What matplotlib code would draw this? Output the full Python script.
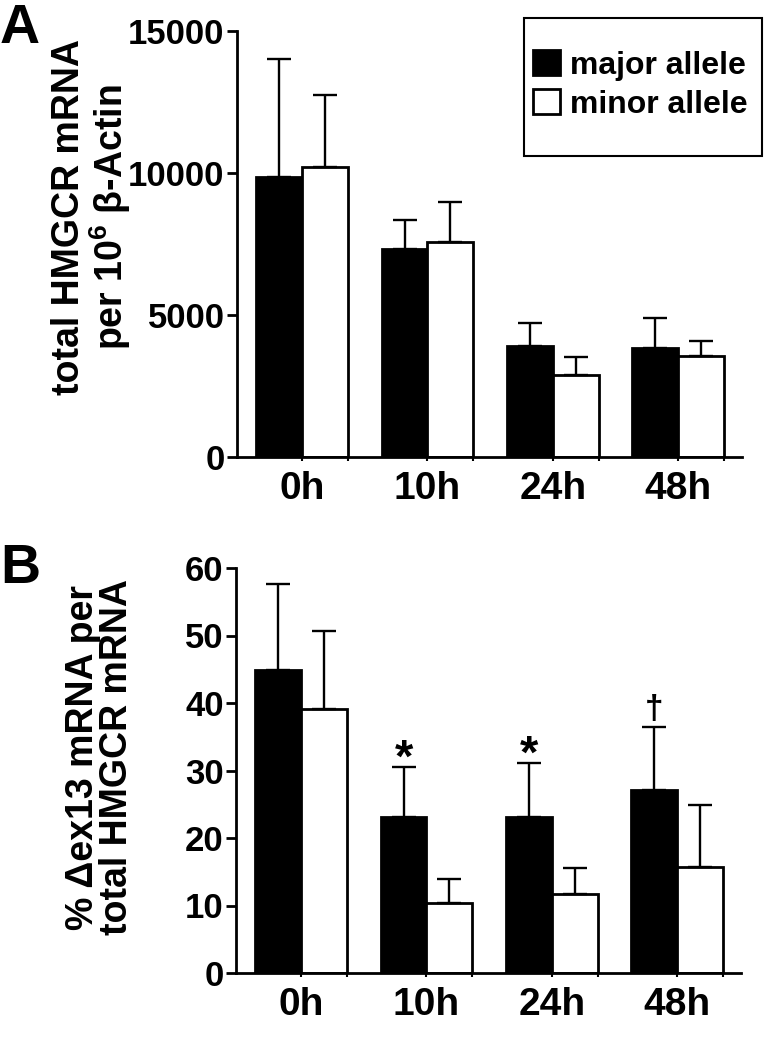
import numpy as np
import matplotlib
matplotlib.use('Agg')
import matplotlib.pyplot as plt
from matplotlib.patches import Rectangle

plt.rcParams['font.family'] = ['Liberation Sans', 'DejaVu Sans']
plt.rcParams['font.weight'] = 'bold'
plt.rcParams['mathtext.fontset'] = 'custom'
plt.rcParams['mathtext.rm'] = 'Liberation Sans:bold'
plt.rcParams['mathtext.bf'] = 'Liberation Sans:bold'

# data
times = ['0h', '10h', '24h', '48h']
series = ['major allele', 'minor allele']

a_major = [9860, 7320, 3910, 3840]
a_major_err = [4150, 1020, 810, 1050]
a_minor = [10210, 7570, 2890, 3560]
a_minor_err = [2540, 1410, 630, 525]

b_major = [44.9, 23.1, 23.1, 27.1]
b_major_err = [12.7, 7.4, 8.0, 9.3]
b_minor = [39.1, 10.4, 11.7, 15.7]
b_minor_err = [11.6, 3.5, 3.8, 9.2]
b_marks = ['', '*', '*', '\u2020']

W, H = 765, 1050
fig = plt.figure(figsize=(W/100, H/100), dpi=100)

def px_axes(left, right, top, bottom):
    return fig.add_axes([left/W, 1-bottom/H, (right-left)/W, (bottom-top)/H])

ax_a = px_axes(237, 742, 31, 457)
ax_b = px_axes(236, 741, 568, 973)

x = np.arange(len(times))
bw = 0.365
lw = 2.0

def draw(ax, major, major_err, minor, minor_err, ylim, yticks):
    zeros = np.zeros(len(major))
    b1 = ax.bar(x - bw/2, major, bw, color='black', edgecolor='black', linewidth=lw,
                yerr=[zeros, major_err], capsize=8.6,
                error_kw=dict(ecolor='black', elinewidth=1.7, capthick=1.7), label=series[0])
    b2 = ax.bar(x + bw/2, minor, bw, color='white', edgecolor='black', linewidth=lw,
                yerr=[zeros, minor_err], capsize=8.6,
                error_kw=dict(ecolor='black', elinewidth=1.7, capthick=1.7), label=series[1])
    ax.set_xlim(-0.52, 3.51)
    ax.set_ylim(*ylim)
    ax.set_yticks(yticks)
    ax.set_xticks(x)
    ax.set_xticklabels(times, fontsize=28, fontweight='bold')
    ax.set_xticks(x + bw, minor=True)
    for s in ['top', 'right']:
        ax.spines[s].set_visible(False)
    for s in ['left', 'bottom']:
        ax.spines[s].set_linewidth(2.0)
    ax.tick_params(axis='y', labelsize=25, width=2.0, length=7, pad=2)
    ax.tick_params(axis='x', which='both', width=1.5, length=3, pad=7)
    for t in ax.get_yticklabels():
        t.set_fontweight('bold')
    return b1, b2

b1, b2 = draw(ax_a, a_major, a_major_err, a_minor, a_minor_err, (0, 15000), [0, 5000, 10000, 15000])
draw(ax_b, b_major, b_major_err, b_minor, b_minor_err, (0, 60), [0, 10, 20, 30, 40, 50, 60])

# significance marks above major allele bars in panel B
for i, m in enumerate(b_marks):
    if not m:
        continue
    top = b_major[i] + b_major_err[i]
    if m == '*':
        ax_b.annotate(m, (x[i] - bw/2, top), xytext=(0, -3), textcoords='offset points',
                      ha='center', va='baseline', fontsize=34, fontweight='bold')
    else:
        ax_b.annotate(m, (x[i] - bw/2, top), xytext=(0, 7), textcoords='offset points',
                      ha='center', va='baseline', fontsize=24, fontweight='bold')

# y labels
fig.text(92/W, 1-217/H, 'total HMGCR mRNA\nper 10$^{6}$ \u03b2-Actin', rotation=90,
         ha='center', va='center', multialignment='center', fontsize=27,
         fontweight='bold', linespacing=1.0)
fig.text(100/W, 1-757/H, '% \u0394ex13 mRNA per\ntotal HMGCR mRNA', rotation=90,
         ha='center', va='center', multialignment='center', fontsize=27,
         fontweight='bold', linespacing=0.95)

# panel letters
fig.text(0/W, 1-43/H, 'A', fontsize=40, fontweight='bold', ha='left', va='baseline')
fig.text(0/W, 1-583/H, 'B', fontsize=40, fontweight='bold', ha='left', va='baseline')

# legend
ax_a.legend(handles=[b1, b2], loc='upper left', bbox_to_anchor=(533/W, 1-50/H),
            bbox_transform=fig.transFigure, frameon=False, borderpad=0, borderaxespad=0,
            handlelength=0.85, handleheight=0.85, handletextpad=0.3, labelspacing=0.25,
            prop=dict(size=23, weight='bold'))
fig.patches.append(Rectangle((524/W, 1-156/H), 238/W, 138/H, transform=fig.transFigure,
                             fill=False, edgecolor='black', linewidth=1.5))

fig.savefig('out.png', dpi=100)
